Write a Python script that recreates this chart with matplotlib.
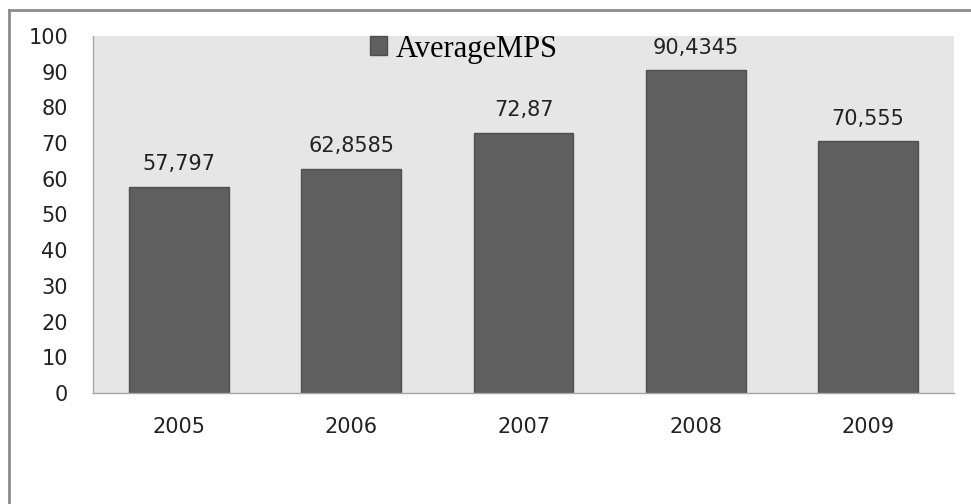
import matplotlib
matplotlib.use("Agg")
import matplotlib.pyplot as plt
from matplotlib.lines import Line2D

years = ["2005", "2006", "2007", "2008", "2009"]
average_mps = [57.797, 62.8585, 72.87, 90.4345, 70.555]
value_labels = ["57,797", "62,8585", "72,87", "90,4345", "70,555"]
yticks = [0, 10, 20, 30, 40, 50, 60, 70, 80, 90, 100]

fig = plt.figure(figsize=(9.71, 5.04), dpi=100)
ax = fig.add_axes([93 / 971, 1 - 393 / 504, 861 / 971, 357 / 504])

# outer chart frame (only top and left edges are visible in the crop)
fig.add_artist(Line2D([9 / 971, 1.0], [1 - 10 / 504] * 2, color="#8c8c8c", lw=2))
fig.add_artist(Line2D([9 / 971] * 2, [0.0, 1 - 10 / 504], color="#8c8c8c", lw=2))

ax.set_facecolor("#e6e6e6")
x = range(len(years))
bars = ax.bar(x, average_mps, width=0.58, color="#5f5f5f",
              edgecolor="#4f4f4f", linewidth=1, label="AverageMPS")

for b, txt in zip(bars, value_labels):
    ax.annotate(txt, (b.get_x() + b.get_width() / 2, b.get_height()),
                xytext=(0, 9), textcoords="offset points",
                ha="center", va="bottom", fontsize=15, color="#222222")

ax.set_xlim(-0.5, len(years) - 0.5)
ax.set_ylim(0, 100)
ax.set_yticks(yticks)
ax.set_xticks(list(x))
ax.set_xticklabels(years)
ax.tick_params(axis="both", length=0, labelsize=15, labelcolor="#222222")
ax.tick_params(axis="y", pad=18)
ax.tick_params(axis="x", pad=17)

for s in ["top", "right"]:
    ax.spines[s].set_visible(False)
for s in ["left", "bottom"]:
    ax.spines[s].set_color("#a6a6a6")
    ax.spines[s].set_linewidth(1)

leg = ax.legend(loc="center left", bbox_to_anchor=((370 - 93) / 861, 1 - (49 - 36) / 357),
                frameon=False, borderpad=0, borderaxespad=0, handlelength=0.55,
                handleheight=0.55, handletextpad=0.3,
                prop={"family": "Liberation Serif", "size": 22})

fig.savefig("out.png", dpi=100)
